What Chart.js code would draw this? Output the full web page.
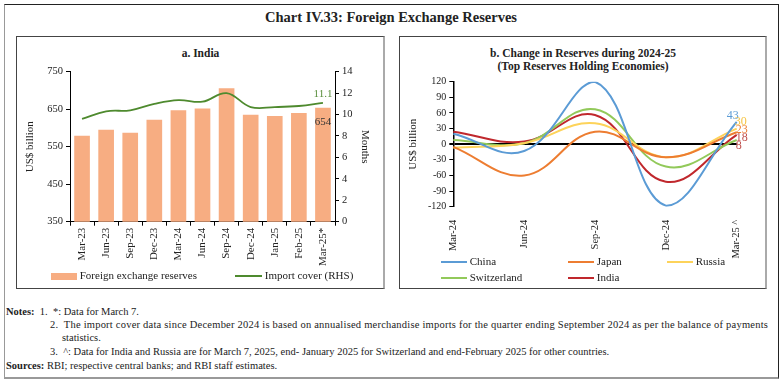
<!DOCTYPE html>
<html>
<head>
<meta charset="utf-8">
<script src="https://cdn.jsdelivr.net/npm/chart.js@4.4.1/dist/chart.umd.min.js"></script>
<style>
  body { margin: 0; width: 782px; height: 384px; background: #fff; position: relative; overflow: hidden;
         font-family: "Liberation Serif", "DejaVu Serif", serif; color: #222; }
  .abs { position: absolute; }
  #frame { left: 4px; top: 4px; width: 775px; height: 375px; border: 1px solid #222;
           border-left-color: #999; border-bottom: 2px solid #999; box-sizing: border-box; }
  .panel { border: 1px solid #444; border-right: 2px solid #aaa; box-sizing: border-box; }
  #mainTitle { left: 0; width: 782px; top: 9px; text-align: center; font-weight: bold; font-size: 14.5px; }
  .ptitle { text-align: center; font-weight: bold; font-size: 11.5px; line-height: 13px; }
  .leg { font-size: 11px; white-space: nowrap; line-height: 12px; }
  .sw { display: inline-block; vertical-align: middle; }
  .note { font-size: 10.5px; white-space: nowrap; line-height: 12px; }
  .wide { letter-spacing: 0.22px; }
</style>
</head>
<body>
<div id="frame" class="abs"></div>
<div id="mainTitle" class="abs">Chart IV.33: Foreign Exchange Reserves</div>

<div class="abs panel" style="left:16px;top:36px;width:369px;height:253px;"></div>
<div class="abs panel" style="left:399px;top:36px;width:368px;height:253px;"></div>

<div class="abs ptitle" style="left:16px;width:369px;top:47px;">a. India</div>
<div class="abs ptitle" style="left:399px;width:368px;top:47px;">b. Change in Reserves during 2024-25<br>(Top Reserves Holding Economies)</div>

<canvas id="indiaChart" class="abs" style="left:16px;top:36px;" width="369" height="253"></canvas>
<canvas id="changeChart" class="abs" style="left:399px;top:36px;" width="368" height="253"></canvas>

<!-- legend, panel a -->
<div class="abs leg" style="left:51px;top:269px;"><span class="sw" style="width:26px;height:7px;background:#f7ad82;"></span> Foreign exchange reserves</div>
<div class="abs leg" style="left:235px;top:269px;"><span class="sw" style="width:27px;height:2px;background:#4e8a2e;"></span> Import cover (RHS)</div>

<!-- legend, panel b -->
<div id="legB"></div>

<div class="abs note" style="left:6px;top:306px;"><b>Notes:</b>&nbsp; 1.&nbsp; *: Data for March 7.</div>
<div class="abs note wide" style="left:50px;top:319px;">2.&nbsp; The import cover data since December 2024 is based on annualised merchandise imports for the quarter ending September 2024 as per the balance of payments</div>
<div class="abs note" style="left:62px;top:332px;">statistics.</div>
<div class="abs note" style="left:50px;top:346px;">3.&nbsp; ^: Data for India and Russia are for March 7, 2025, end- January 2025 for Switzerland and end-February 2025 for other countries.</div>
<div class="abs note" style="left:6px;top:360px;"><b>Sources:</b> RBI; respective central banks; and RBI staff estimates.</div>

<script>
// panel a: India
const indiaLabels = ['Mar-23', 'Jun-23', 'Sep-23', 'Dec-23', 'Mar-24', 'Jun-24', 'Sep-24', 'Dec-24', 'Jan-25', 'Feb-25', 'Mar-25*'];
const reserves = [579, 595, 587, 622, 647, 652, 706, 635, 632, 640, 654];
const importCover = [9.6, 10.3, 10.4, 11.0, 11.35, 11.2, 12.0, 10.7, 10.7, 10.8, 11.1];

// panel b: change in reserves, US$ billion
const changeLabels = ['Mar-24', 'Jun-24', 'Sep-24', 'Dec-24', 'Mar-25 ^'];
const china = [20, -13, 120, -118, 43];
const japan = [-5, -60, 24, -25, 23];
const russia = [-7, 2, 40, -25, 30];
const switzerland = [8, 2, 67, -43, 8];
const india = [24, 5, 56, -72, 18];

const seriesB = [
  { name: 'China', data: china, color: '#5b9bd5', label: '43', labelColor: '#5b9bd5', dx: -4, dy: -6 },
  { name: 'Japan', data: japan, color: '#ed7d31', label: '23', labelColor: '#ed7d31', dx: 5, dy: -2 },
  { name: 'Russia', data: russia, color: '#fdd35a', label: '30', labelColor: '#f5c342', dx: 4, dy: -7 },
  { name: 'Switzerland', data: switzerland, color: '#92c95a', label: '8', labelColor: '#c0504d', dx: 2, dy: 6 },
  { name: 'India', data: india, color: '#c0282d', label: '18', labelColor: '#c0504d', dx: 5, dy: 3 }
];

Chart.defaults.font.family = '"Liberation Serif", "DejaVu Serif", serif';
Chart.defaults.color = '#222';

const legPos = [[441, 255], [568, 255], [667, 255], [441, 271], [568, 271]];
document.getElementById('legB').innerHTML = seriesB.map((s, i) =>
  `<div class="abs leg" style="left:${legPos[i][0]}px;top:${legPos[i][1]}px;"><span class="sw" style="width:26px;height:2px;background:${s.color};"></span> ${s.name}</div>`
).join('');

const indiaLabelsPlugin = {
  id: 'indiaLabels',
  afterDatasetsDraw(chart) {
    const ctx = chart.ctx;
    const last = indiaLabels.length - 1;
    const x = chart.scales.x.getPixelForValue(last);
    ctx.save();
    ctx.font = '11px "Liberation Serif", serif';
    ctx.textAlign = 'center';
    ctx.textBaseline = 'middle';
    ctx.fillStyle = '#5a8f3c';
    ctx.fillText(importCover[last].toFixed(1), x, chart.scales.y1.getPixelForValue(importCover[last]) - 9);
    ctx.fillStyle = '#333';
    ctx.fillText(String(reserves[last]), x, chart.scales.y.getPixelForValue(reserves[last]) + 14);
    ctx.restore();
  }
};

new Chart(document.getElementById('indiaChart'), {
  data: {
    labels: indiaLabels,
    datasets: [
      { type: 'line', label: 'Import cover (RHS)', data: importCover, yAxisID: 'y1', order: 1,
        borderColor: '#4e8a2e', borderWidth: 1.8, pointRadius: 0, tension: 0.4 },
      { type: 'bar', label: 'Foreign exchange reserves', data: reserves, yAxisID: 'y', order: 2,
        backgroundColor: '#f7ad82', barPercentage: 0.65, categoryPercentage: 1 }
    ]
  },
  options: {
    responsive: false,
    animation: false,
    layout: { padding: { top: 35.7, left: 0, right: 0, bottom: 0 } },
    plugins: { legend: { display: false }, tooltip: { enabled: false } },
    scales: {
      x: {
        offset: true,
        grid: { drawOnChartArea: false, offset: true, tickLength: 4, color: '#000' },
        border: { color: '#000' },
        ticks: { minRotation: 90, maxRotation: 90, autoSkip: false, padding: 2, font: { size: 11 } },
        afterFit: s => { s.height = 67.3; }
      },
      y: {
        position: 'left', min: 350, max: 750,
        ticks: { stepSize: 100, font: { size: 10.5 }, padding: 3 },
        grid: { drawOnChartArea: false, tickLength: 4, color: '#000' },
        border: { color: '#000' },
        title: { display: true, text: 'US$ billion', font: { size: 11 }, padding: { top: 7.5, bottom: 0 } },
        afterFit: s => { s.width = 54; }
      },
      y1: {
        position: 'right', min: 0, max: 14,
        ticks: { stepSize: 2, font: { size: 10.5 }, padding: 3 },
        grid: { drawOnChartArea: false, tickLength: 4, color: '#000' },
        border: { color: '#000' },
        title: { display: true, text: 'Months', font: { size: 11 }, padding: { top: 13.4, bottom: 0 } },
        afterFit: s => { s.width = 50; }
      }
    }
  },
  plugins: [indiaLabelsPlugin]
});

const endLabelsPlugin = {
  id: 'endLabels',
  afterDatasetsDraw(chart) {
    const ctx = chart.ctx;
    const last = changeLabels.length - 1;
    const x = chart.scales.x.getPixelForValue(last);
    ctx.save();
    ctx.font = '12px "Liberation Serif", serif';
    ctx.textAlign = 'center';
    ctx.textBaseline = 'middle';
    seriesB.forEach(s => {
      ctx.fillStyle = s.labelColor;
      ctx.fillText(s.label, x + s.dx, chart.scales.y.getPixelForValue(s.data[last]) + s.dy);
    });
    ctx.restore();
  }
};

new Chart(document.getElementById('changeChart'), {
  type: 'line',
  data: {
    labels: changeLabels,
    datasets: seriesB.map(s => ({
      label: s.name, data: s.data, borderColor: s.color, borderWidth: 2, pointRadius: 0, tension: 0.4
    }))
  },
  options: {
    responsive: false,
    animation: false,
    layout: { padding: { top: 45.7, left: 0, right: 30.3, bottom: 0 } },
    plugins: { legend: { display: false }, tooltip: { enabled: false } },
    scales: {
      x: {
        offset: false,
        grid: { display: false },
        border: { display: false },
        ticks: { minRotation: 90, maxRotation: 90, autoSkip: false, padding: 5, font: { size: 10.5 } },
        afterFit: s => { s.height = 82.3; }
      },
      y: {
        min: -120, max: 120,
        ticks: { stepSize: 30, font: { size: 10 }, padding: 3 },
        grid: {
          drawOnChartArea: true, tickLength: 4, tickColor: '#000',
          color: c => (c.tick && c.tick.value === 0 ? '#000' : 'rgba(0,0,0,0)'),
          lineWidth: c => (c.tick && c.tick.value === 0 ? 2 : 1)
        },
        border: { color: '#000', width: 1.5 },
        title: { display: true, text: 'US$ billion', font: { size: 11 }, padding: { top: 7.4, bottom: 0 } },
        afterFit: s => { s.width = 54.3; }
      }
    }
  },
  plugins: [endLabelsPlugin]
});
</script>
</body>
</html>
